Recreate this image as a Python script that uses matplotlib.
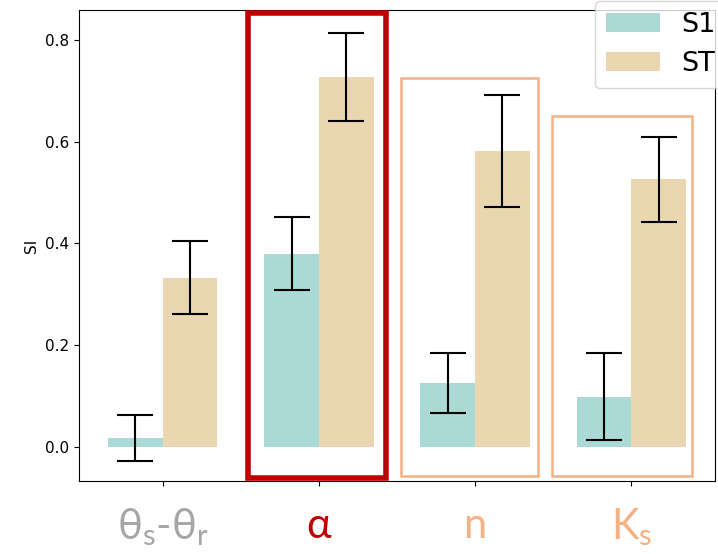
import numpy as np
import matplotlib
matplotlib.use('Agg')
import matplotlib.pyplot as plt
from matplotlib.patches import Rectangle

plt.rcParams['mathtext.fontset'] = 'custom'
plt.rcParams['mathtext.rm'] = 'Lato'
plt.rcParams['mathtext.it'] = 'Lato'

# sensitivity indices per parameter
params = ['θ$_\\mathregular{s}$-θ$_\\mathregular{r}$', 'α', 'n', 'K$_\\mathregular{s}$']
label_colors = ['#a6a6a6', '#c00000', '#f4b183', '#f4b183']
s1 = [0.017, 0.380, 0.126, 0.099]
s1_conf = [0.045, 0.072, 0.059, 0.085]
st = [0.333, 0.727, 0.581, 0.526]
st_conf = [0.072, 0.087, 0.110, 0.083]

# highlight boxes: (x0, x1, y0, y1, color, lw)
boxes = [(0.547, 1.431, -0.061, 0.853, '#c00000', 4.0),
         (1.527, 2.404, -0.058, 0.725, '#f4b183', 1.8),
         (2.493, 3.387, -0.058, 0.651, '#f4b183', 1.8)]

x = np.arange(len(params))
w = 0.35

fig = plt.figure(figsize=(7.18, 5.54), dpi=100)
ax = fig.add_axes([0.110, 0.1318, 0.8858, 0.8502])

ax.bar(x - w/2, s1, w, color='#abd9d5', label='S1')
ax.bar(x + w/2, st, w, color='#ead6b0', label='ST')
ax.errorbar(x - w/2, s1, yerr=s1_conf, fmt='none', ecolor='black', elinewidth=1.5, capsize=13, capthick=1.5)
ax.errorbar(x + w/2, st, yerr=st_conf, fmt='none', ecolor='black', elinewidth=1.5, capsize=13, capthick=1.5)

for x0, x1, y0, y1, c, lw in boxes:
    ax.add_patch(Rectangle((x0, y0), x1 - x0, y1 - y0, fill=False, edgecolor=c, linewidth=lw, clip_on=False, zorder=5))

ax.set_xlim(-0.535, 3.535)
ax.set_ylim(-0.067, 0.859)
ax.set_yticks([0.0, 0.2, 0.4, 0.6, 0.8])
ax.tick_params(axis='y', labelsize=11)
ax.set_xticks(x)
ax.set_xticklabels(params, fontsize=30, family='Lato')
ax.tick_params(axis='x', pad=15)
for lab, c in zip(ax.get_xticklabels(), label_colors):
    lab.set_color(c)
ax.set_ylabel('SI', fontsize=11)

fig.legend(loc='upper left', bbox_to_anchor=(595/718, 1 - 1/554), borderaxespad=0, fontsize=19.5)

fig.savefig('out.png', dpi=100)
